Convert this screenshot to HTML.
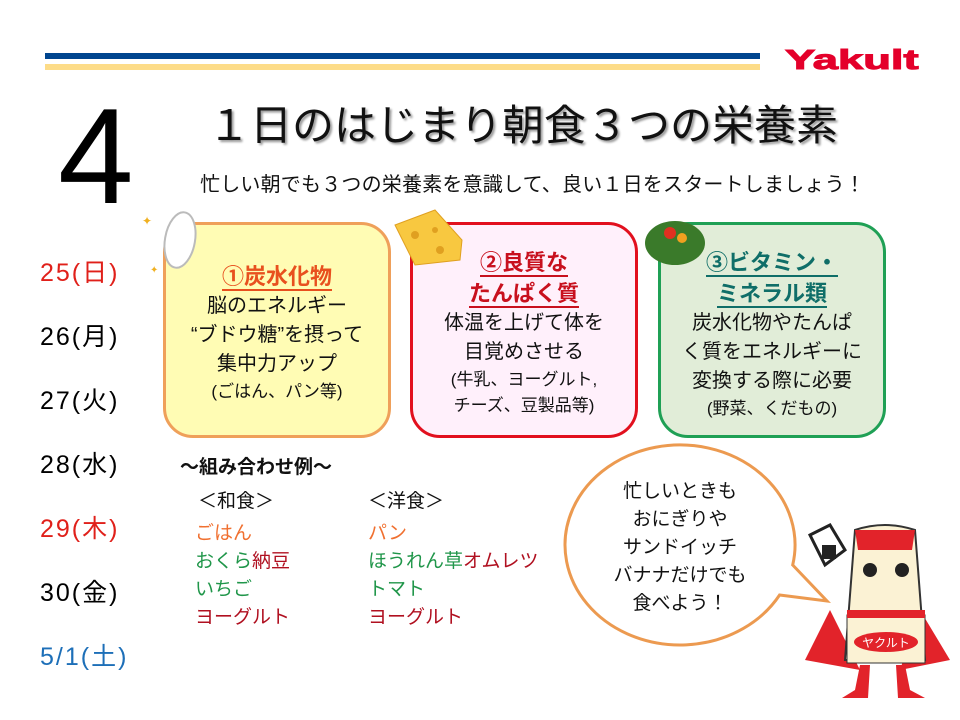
<!DOCTYPE html>
<html><head><meta charset="utf-8"><style>
body{margin:0;width:960px;height:720px;background:#fff;position:relative;overflow:hidden;font-family:"Liberation Sans","Noto Sans CJK JP",sans-serif;}
.a{position:absolute;white-space:nowrap;}
.box{position:absolute;border-radius:30px;border:3px solid;box-sizing:border-box;text-align:center;}
.box div{white-space:nowrap;}
.h{font-weight:bold;font-size:22px;line-height:31px;}
.h span{border-bottom:2px solid;}
.t{font-size:20px;line-height:29px;color:#111;}
.s{font-size:17px;line-height:26px;color:#111;}
.d{position:absolute;left:40px;font-size:25px;letter-spacing:2px;}
.f{position:absolute;font-size:19px;}
</style></head><body>
<div class="a" style="left:45px;top:53px;width:715px;height:6px;background:#00458f"></div>
<div class="a" style="left:45px;top:64px;width:715px;height:6px;background:#fddc88"></div>
<div class="a" style="left:785px;top:44px;font-size:28px;font-weight:900;color:#e4002b;transform:scaleX(1.62);transform-origin:left top;-webkit-text-stroke:1px #e4002b">Yakult</div>
<div class="a" style="left:58px;top:88px;font-size:136px;line-height:136px;color:#000">4</div>
<div class="a" style="left:208px;top:98px;font-size:42px;line-height:56px;color:#111;text-shadow:2px 2px 2px #999">１日のはじまり朝食３つの栄養素</div>
<div class="a" style="left:200px;top:172px;font-size:20px;line-height:26px;letter-spacing:0.2px;color:#111">忙しい朝でも３つの栄養素を意識して、良い１日をスタートしましょう！</div>

<div class="d" style="top:253px;color:#e0201a">25(日)</div>
<div class="d" style="top:317px">26(月)</div>
<div class="d" style="top:381px">27(火)</div>
<div class="d" style="top:445px">28(水)</div>
<div class="d" style="top:509px;color:#e0201a">29(木)</div>
<div class="d" style="top:573px">30(金)</div>
<div class="d" style="top:637px;color:#1d6fb8">5/1(土)</div>

<div class="box" style="left:163px;top:222px;width:228px;height:216px;background:#fffcb4;border-color:#efa05a;padding-top:36px">
<div class="h" style="color:#e8501e"><span>①炭水化物</span></div>
<div class="t">脳のエネルギー</div><div class="t">“ブドウ糖”を摂って</div><div class="t">集中力アップ</div>
<div class="s">(ごはん、パン等)</div></div>
<div class="box" style="left:410px;top:222px;width:228px;height:216px;background:#fff0fb;border-color:#e2101e;padding-top:22px">
<div class="h" style="color:#c8101e"><span>②良質な</span></div><div class="h" style="color:#c8101e"><span>たんぱく質</span></div>
<div class="t">体温を上げて体を</div><div class="t">目覚めさせる</div>
<div class="s">(牛乳、ヨーグルト,</div><div class="s">チーズ、豆製品等)</div></div>
<div class="box" style="left:658px;top:222px;width:228px;height:216px;background:#e1edd8;border-color:#1fa055;padding-top:22px">
<div class="h" style="color:#0f6e68"><span>③ビタミン・</span></div><div class="h" style="color:#0f6e68"><span>ミネラル類</span></div>
<div class="t">炭水化物やたんぱ</div><div class="t">く質をエネルギーに</div><div class="t">変換する際に必要</div>
<div class="s">(野菜、くだもの)</div></div>

<svg class="a" style="left:140px;top:195px" width="60" height="80"><ellipse cx="40" cy="45" rx="15" ry="28" fill="#fff" stroke="#bbb" stroke-width="2" transform="rotate(10 40 45)"/><text x="2" y="30" fill="#f0b020" font-size="12">✦</text><text x="10" y="78" fill="#f0b020" font-size="10">✦</text></svg>
<svg class="a" style="left:390px;top:205px" width="80" height="65"><path d="M5 20 L45 5 L72 35 L70 55 L25 60 Z" fill="#f8c840" stroke="#e0a020"/><circle cx="25" cy="30" r="4" fill="#e0a020"/><circle cx="45" cy="25" r="3" fill="#e0a020"/><circle cx="50" cy="45" r="4" fill="#e0a020"/></svg>
<svg class="a" style="left:640px;top:208px" width="70" height="60"><ellipse cx="35" cy="35" rx="30" ry="22" fill="#3a7a2a"/><circle cx="30" cy="25" r="6" fill="#e03020"/><circle cx="42" cy="30" r="5" fill="#f0a020"/></svg>

<div class="a" style="left:180px;top:452px;font-size:19px;font-weight:bold;color:#111">～組み合わせ例～</div>
<div class="f" style="left:198px;top:486px;color:#111">＜和食＞</div>
<div class="f" style="left:368px;top:486px;color:#111">＜洋食＞</div>
<div class="f" style="left:195px;top:518px;color:#f07030">ごはん</div>
<div class="f" style="left:195px;top:546px;color:#20964a">おくら<span style="color:#b01020">納豆</span></div>
<div class="f" style="left:195px;top:574px;color:#20964a">いちご</div>
<div class="f" style="left:195px;top:602px;color:#b01020">ヨーグルト</div>
<div class="f" style="left:368px;top:518px;color:#f07030">パン</div>
<div class="f" style="left:368px;top:546px;color:#20964a">ほうれん草<span style="color:#b01020">オムレツ</span></div>
<div class="f" style="left:368px;top:574px;color:#20964a">トマト</div>
<div class="f" style="left:368px;top:602px;color:#b01020">ヨーグルト</div>

<svg class="a" style="left:555px;top:438px" width="280" height="215"><path d="M237.7 127 L272 163 L224.6 157 A115 100 0 1 1 237.7 127 Z" fill="#fff" stroke="#ec9a50" stroke-width="3"/></svg>
<div class="a" style="left:595px;top:478px;width:170px;text-align:center;font-size:19px;line-height:28px;color:#111">忙しいときも<br>おにぎりや<br>サンドイッチ<br>バナナだけでも<br>食べよう！</div>

<svg class="a" style="left:800px;top:520px" width="160" height="200">
<path d="M30 90 L5 140 L60 150 Z" fill="#e2232a"/><path d="M120 90 L150 140 L100 150 Z" fill="#e2232a"/>
<path d="M55 10 Q85 0 115 10 L125 140 L45 140 Z" fill="#fbf2d4" stroke="#333" stroke-width="2"/>
<path d="M55 10 L115 10 L112 30 L58 30 Z" fill="#e2232a"/>
<rect x="47" y="95" width="78" height="48" fill="#fbf2d4" stroke="#333"/>
<rect x="47" y="90" width="78" height="8" fill="#e2232a"/>
<ellipse cx="86" cy="122" rx="32" ry="10" fill="#e2232a"/>
<text x="86" y="127" fill="#fff" font-size="12" text-anchor="middle" font-family="Noto Sans CJK JP">ヤクルト</text>
<circle cx="70" cy="50" r="7" fill="#222"/><circle cx="102" cy="50" r="7" fill="#222"/>
<path d="M10 15 L30 5 L45 30 L25 45 Z" fill="#fff" stroke="#222" stroke-width="3"/><rect x="22" y="25" width="14" height="14" fill="#222"/>
<path d="M60 145 L55 170 L42 178 L68 178 L70 145 Z M105 145 L110 170 L125 178 L98 178 L96 145 Z" fill="#e2232a"/>
</svg>
</body></html>
